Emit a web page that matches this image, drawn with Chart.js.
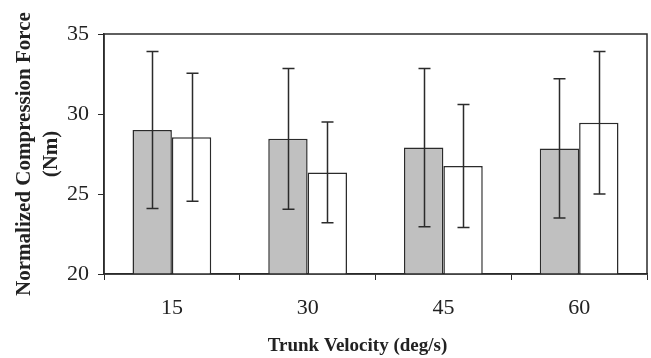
<!DOCTYPE html>
<html>
<head>
<meta charset="utf-8">
<script src="https://cdn.jsdelivr.net/npm/chart.js@4.4.1/dist/chart.umd.min.js"></script>
<style>
  html, body { margin: 0; padding: 0; background: #fff; }
  #wrap { width: 651px; height: 358px; }
</style>
</head>
<body>
<div id="wrap"><canvas id="chart" width="651" height="358"></canvas></div>
<script>
const velocities = ['15', '30', '45', '60'];
const grayMeans = [29.0, 28.45, 27.9, 27.85];
const graySd = [4.9, 4.4, 4.95, 4.35];
const whiteMeans = [28.55, 26.35, 26.75, 29.45];
const whiteSd = [4.0, 3.15, 3.85, 4.45];
const yTicks = [20, 25, 30, 35];
const xTitle = 'Trunk Velocity (deg/s)';

const ink = '#2b2b2b';
const serif = "'Liberation Serif', 'Times New Roman', serif";

// error bars drawn from the same scales as the bars
const errorBars = {
  id: 'errorBars',
  afterDatasetsDraw(chart) {
    const ctx = chart.ctx;
    const yScale = chart.scales.y;
    chart.data.datasets.forEach((ds, di) => {
      const meta = chart.getDatasetMeta(di);
      meta.data.forEach((bar, i) => {
        const hi = yScale.getPixelForValue(ds.data[i] + ds.sd[i]);
        const lo = yScale.getPixelForValue(ds.data[i] - ds.sd[i]);
        const x = Math.round(bar.x) + 0.5;
        ctx.save();
        ctx.strokeStyle = ink;
        ctx.lineWidth = 1.5;
        ctx.beginPath();
        ctx.moveTo(x, hi);
        ctx.lineTo(x, lo);
        ctx.moveTo(x - 6, hi);
        ctx.lineTo(x + 6, hi);
        ctx.moveTo(x - 6, lo);
        ctx.lineTo(x + 6, lo);
        ctx.stroke();
        ctx.restore();
      });
    });
  }
};

// box round the plot area, and the x title which sits left of the plot centre
const frame = {
  id: 'frame',
  afterDraw(chart) {
    const { left, top, right, bottom } = chart.chartArea;
    const ctx = chart.ctx;
    ctx.save();
    ctx.strokeStyle = ink;
    ctx.lineWidth = 1.5;
    ctx.strokeRect(left, top, right - left, bottom - top);
    ctx.fillStyle = '#222';
    ctx.font = 'bold 19px ' + serif;
    ctx.textAlign = 'center';
    ctx.textBaseline = 'middle';
    ctx.fillText(xTitle, (left + right) / 2 - 18, chart.height - 12);
    ctx.restore();
  }
};

new Chart(document.getElementById('chart'), {
  type: 'bar',
  data: {
    labels: velocities,
    datasets: [
      {
        label: 'A',
        data: grayMeans,
        sd: graySd,
        backgroundColor: '#c0c0c0',
        borderColor: ink,
        borderWidth: 1.5,
        borderSkipped: false
      },
      {
        label: 'B',
        data: whiteMeans,
        sd: whiteSd,
        backgroundColor: '#ffffff',
        borderColor: ink,
        borderWidth: 1.5,
        borderSkipped: false
      }
    ]
  },
  options: {
    responsive: false,
    animation: false,
    layout: { padding: { top: 34, right: 4, left: 0, bottom: 0 } },
    plugins: {
      legend: { display: false },
      tooltip: { enabled: false }
    },
    datasets: {
      bar: { categoryPercentage: 0.58, barPercentage: 1.0 }
    },
    scales: {
      x: {
        afterFit: (scale) => { scale.height = 84; },
        grid: {
          offset: true,
          drawOnChartArea: false,
          drawTicks: true,
          tickLength: 6,
          color: ink,
          lineWidth: 1
        },
        border: { color: ink, width: 1.5 },
        ticks: {
          color: '#222',
          padding: 15,
          font: { family: serif, size: 22 }
        },
        title: { display: false }
      },
      y: {
        min: 20,
        max: 35,
        afterFit: (scale) => { scale.width = 104; },
        afterBuildTicks: (scale) => {
          scale.ticks = yTicks.map(v => ({ value: v }));
        },
        grid: {
          drawOnChartArea: false,
          drawTicks: true,
          tickLength: 6,
          color: ink,
          lineWidth: 1
        },
        border: { color: ink, width: 1.5 },
        ticks: {
          color: '#222',
          padding: 9,
          font: { family: serif, size: 22 }
        },
        title: {
          display: true,
          text: ['Normalized Compression Force', '(Nm)'],
          color: '#222',
          padding: { top: 11, bottom: 0 },
          font: { family: serif, size: 21, weight: 'bold', lineHeight: 1.3 }
        }
      }
    }
  },
  plugins: [errorBars, frame]
});
</script>
</body>
</html>
